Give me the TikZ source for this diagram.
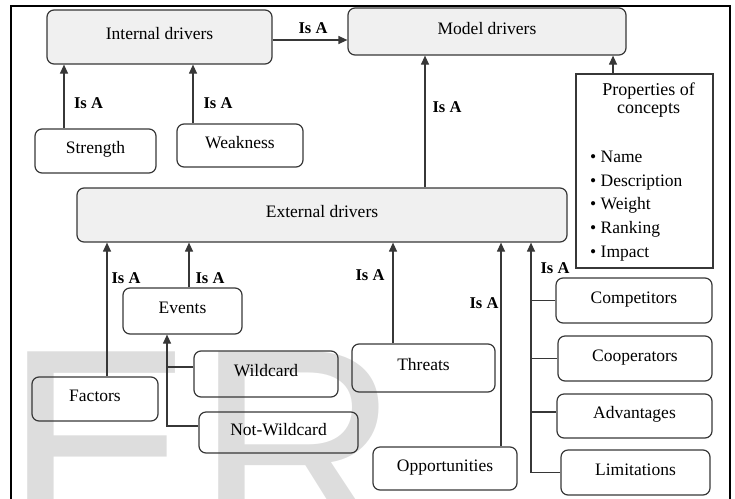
\documentclass[tikz,border=0pt]{standalone}
\usepackage{fontspec}
\setmainfont{Liberation Serif}
\newfontfamily\wmfont{Liberation Sans}
\usetikzlibrary{arrows.meta}
\definecolor{wm}{RGB}{221,221,221}
\definecolor{boxfill}{RGB}{240,240,240}
\definecolor{edge}{RGB}{55,55,55}
\begin{document}
\begin{tikzpicture}[x=1pt,y=-1pt,
  box/.style={draw=edge, line width=1.2pt, rounded corners=7pt, font=\fontsize{17.5}{20}\selectfont, inner sep=0pt, text height=12pt, text depth=7pt},
  gbox/.style={box, fill=boxfill},
  lab/.style={font=\fontsize{16.5}{18}\selectfont\bfseries, inner sep=0pt},
  arr/.style={draw=edge, line width=1.2pt, -{Triangle[length=9pt,width=8pt]}},
  ln/.style={draw=edge, line width=1.2pt},
  wmark/.style={anchor=base west, inner sep=0pt, text=wm, font=\wmfont\fontsize{283}{283}\selectfont}]
\useasboundingbox (0,0) rectangle (735,498);
% watermark
\begin{scope}
\clip (0,0) rectangle (735,498);
\node[wmark] (wmE) at (4.6,546) {E};
\node[wmark] (wmR) at (195.7,546) {R};
\end{scope}
% frame
\draw[line width=2pt] (11,500) -- (11,6) -- (730,6) -- (730,500);
% nodes
\node[gbox, minimum width=225pt, minimum height=54pt] (intd) at (159.5,37) {Internal drivers};
\node[gbox, minimum width=278pt, minimum height=47pt] (model) at (487,31.5) {Model drivers};
\node[box, minimum width=121pt, minimum height=44pt] (strength) at (95.5,151) {Strength};
\node[box, minimum width=126pt, minimum height=43pt] (weak) at (240,145.5) {Weakness};
\node[gbox, minimum width=490pt, minimum height=54pt] (ext) at (322,215) {External drivers};
\node[draw=edge, line width=1.2pt, minimum width=137pt, minimum height=194pt] (props) at (644.5,171) {};
\node[align=center, inner sep=0pt, font=\fontsize{18}{18}\selectfont] (ptitle) at (648.5,100) {Properties of\\concepts};
\node[anchor=west, align=left, inner sep=0pt, font=\fontsize{17.5}{23.7}\selectfont] (plist) at (590,206) {\textbullet~Name\\\textbullet~Description\\\textbullet~Weight\\\textbullet~Ranking\\\textbullet~Impact};
\node[box, minimum width=119pt, minimum height=46pt] (events) at (182.5,311) {Events};
\node[box, minimum width=126pt, minimum height=44pt] (factors) at (95,399) {Factors};
\node[box, minimum width=144pt, minimum height=46pt] (wild) at (266,374) {Wildcard};
\node[box, minimum width=159pt, minimum height=41pt] (notwild) at (278.5,432.5) {Not-Wildcard};
\node[box, minimum width=143pt, minimum height=48pt] (threats) at (423.5,368) {Threats};
\node[box, minimum width=144pt, minimum height=43pt] (opp) at (445,468.5) {Opportunities};
\node[box, minimum width=156pt, minimum height=45pt] (comp) at (634,300.5) {Competitors};
\node[box, minimum width=154pt, minimum height=45pt] (coop) at (635,358.5) {Cooperators};
\node[box, minimum width=155pt, minimum height=44pt] (adv) at (634.5,416) {Advantages};
\node[box, minimum width=149pt, minimum height=45pt] (lim) at (635.5,472.5) {Limitations};
% connectors top
\draw[arr] ([yshift=-3pt]intd.east) -- ([yshift=-3pt]intd.east -| model.west);
\node[lab] (l1) at (313,28) {Is A};
\coordinate (sx) at ([xshift=-31.5pt]strength.north);
\draw[arr] (sx) -- (sx |- intd.south);
\node[lab] (l2) at (88.5,103) {Is A};
\coordinate (wx) at ([xshift=-47pt]weak.north);
\draw[arr] (wx) -- (wx |- intd.south);
\node[lab] (l3) at (218,103) {Is A};
\coordinate (ex) at ([xshift=103pt]ext.north);
\draw[arr] (ex) -- (ex |- model.south);
\node[lab] (l4) at (447,107) {Is A};
\coordinate (px) at ([xshift=-31.5pt]props.north);
\draw[arr] (px) -- (px |- model.south);
% connectors to external
\coordinate (fx) at ([xshift=12pt]factors.north);
\draw[arr] (fx) -- (fx |- ext.south);
\node[lab] (l5) at (126,278) {Is A};
\coordinate (evn) at ([xshift=6.5pt]events.north);
\draw[arr] (evn) -- (evn |- ext.south);
\node[lab] (l6) at (210,278) {Is A};
\coordinate (tx) at ([xshift=-30.5pt]threats.north);
\draw[arr] (tx) -- (tx |- ext.south);
\node[lab] (l7) at (370,275) {Is A};
\coordinate (ox) at ([xshift=56pt]opp.north);
\draw[arr] (ox) -- (ox |- ext.south);
\node[lab] (l8) at (484,303) {Is A};
\coordinate (tr) at ([xshift=209pt]ext.south);
\draw[arr] (lim.west) -| (tr);
\draw[ln] (comp.west) -- (comp.west -| tr);
\draw[ln] (coop.west) -- (coop.west -| tr);
\coordinate (aw) at ([yshift=4pt]adv.west);
\draw[ln] (aw) -- (aw -| tr);
\node[lab] (l9) at (555,268) {Is A};
% events sub-tree
\coordinate (evx) at ([xshift=-15.5pt]events.south);
\coordinate (nw) at ([yshift=6.5pt]notwild.west);
\draw[arr] (nw) -| (evx);
\coordinate (wj) at ([yshift=7pt]wild.west);
\draw[ln] (wj) -- (wj -| evx);
\end{tikzpicture}
\end{document}
